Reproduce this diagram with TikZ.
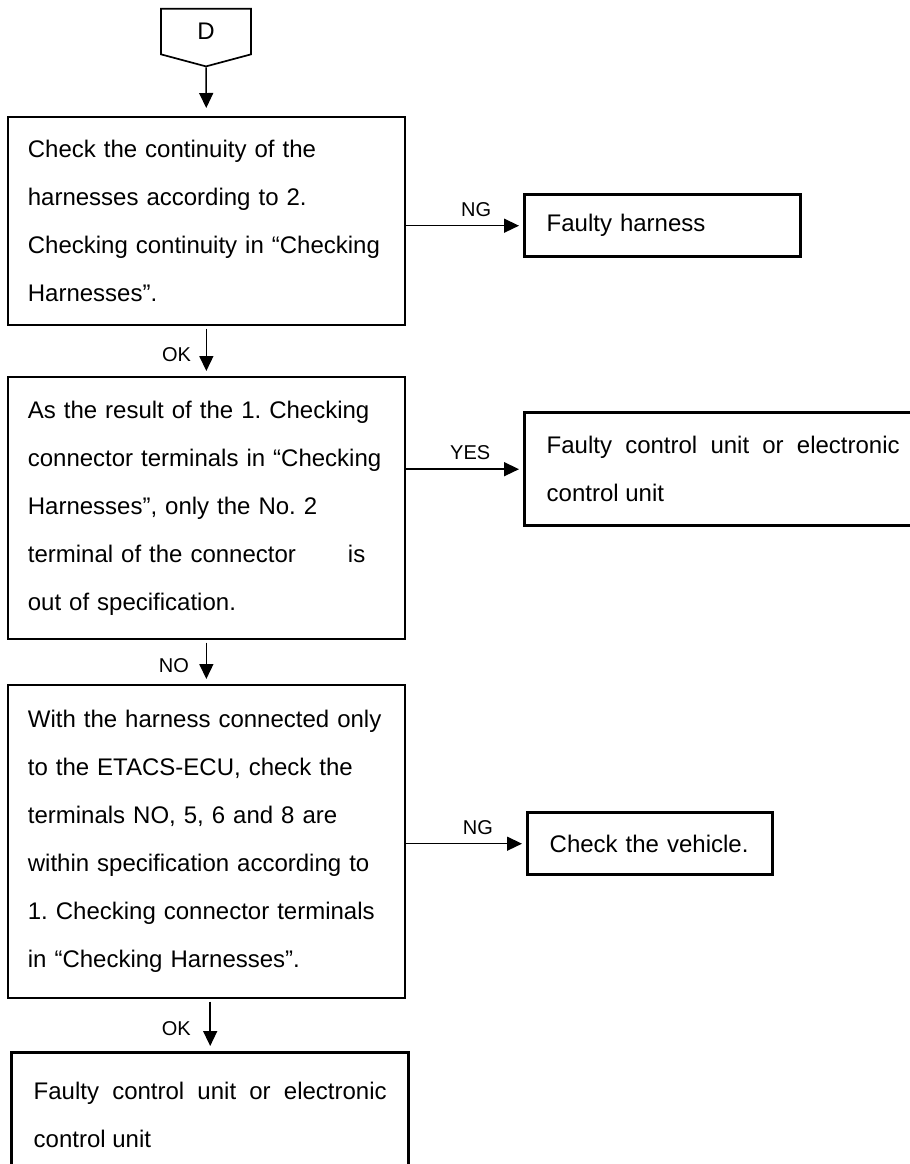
\documentclass[tikz,border=0pt]{standalone}
\usepackage{fontspec}
\setmainfont{Liberation Sans}
\usepackage{xcolor}
\usepackage{tikz}
\usetikzlibrary{shapes.symbols, arrows.meta, positioning}

\tikzset{
    stepbox/.style={draw, line width=0.85pt, anchor=north west, text width=178.5pt,
        inner xsep=10pt, inner ysep=0pt, align=left, font=\fontsize{12}{24}\selectfont},
    resultbox/.style={draw, line width=1.7pt, anchor=north west, inner xsep=11pt,
        inner ysep=0pt, align=left, font=\fontsize{12}{24}\selectfont},
    flowarrow/.style={-{Triangle[length=7.5pt,width=7pt]}, line width=0.75pt},
    flowlabel/.style={font=\fontsize{10}{12}\selectfont}
}

\begin{document}
\frenchspacing
\begin{tikzpicture}[x=0.5pt, y=-0.5pt]
        \useasboundingbox (0,0) rectangle (910,1164);

        \node[draw, line width=0.85pt, signal, signal to=south, signal from=nowhere,
              signal pointer angle=150, minimum width=45pt, minimum height=24pt,
              inner sep=0pt, font=\fontsize{12}{14}\selectfont] (dconn) at (206,31.5) {D};

        \node[stepbox, minimum height=104pt] (chk1) at (7,116) {
            Check the continuity of the\\
            harnesses according to 2.\\
            Checking continuity in “Checking\\
            Harnesses”.};
        \node[stepbox, minimum height=131pt] (chk2) at (7,376) {
            As the result of the 1. Checking\\
            connector terminals in “Checking\\
            Harnesses”, only the No. 2\\
            terminal of the connector\hspace{22pt} is\\
            out of specification.};
        \node[stepbox, minimum height=156.5pt] (chk3) at (7,684) {
            With the harness connected only\\
            to the ETACS-ECU, check the\\
            terminals NO, 5, 6 and 8 are\\
            within specification according to\\
            1. Checking connector terminals\\
            in “Checking Harnesses”.};

        \node[resultbox, text width=116pt, minimum height=31pt] (harness) at (523,193) {Faulty harness};
        \node[resultbox, text width=176.5pt, minimum height=56.5pt, align=justify] (ctrlunit) at (523,411) {
            Faulty control unit or electronic control unit};
        \node[resultbox, text width=100.5pt, minimum height=31pt] (vehicle) at (526,811) {Check the vehicle.};
        \node[resultbox, text width=176.5pt, minimum height=62pt, align=justify] (ctrlunit2) at (10,1051) {
            Faulty control unit or electronic control unit};

        \draw[flowarrow, shorten >=4pt] (dconn.south) -- (chk1.north);
        \draw[flowarrow, shorten <=1.5pt, shorten >=2.5pt] (chk1.south) -- node[flowlabel, left=4pt, yshift=-2pt] {OK} (chk2.north);
        \draw[flowarrow, shorten <=1.5pt, shorten >=2.5pt] (chk2.south) -- node[flowlabel, left=5pt, yshift=-2pt] {NO} (chk3.north);
        \draw[flowarrow, shorten <=1.5pt, shorten >=2.5pt] (ctrlunit2.north |- chk3.south) -- node[flowlabel, left=6pt, yshift=-2pt] {OK} (ctrlunit2.north);

        \draw[flowarrow, shorten >=2pt] (harness.west -| chk1.east) -- node[flowlabel, pos=0.6, above=1pt] {NG} (harness.west);
        \draw[flowarrow, shorten >=2pt] (ctrlunit.west -| chk2.east) -- node[flowlabel, pos=0.55, above=1pt] {YES} (ctrlunit.west);
        \draw[flowarrow, shorten >=2pt] (vehicle.west -| chk3.east) -- node[flowlabel, pos=0.6, above=1pt] {NG} (vehicle.west);
    \end{tikzpicture}
\end{document}
